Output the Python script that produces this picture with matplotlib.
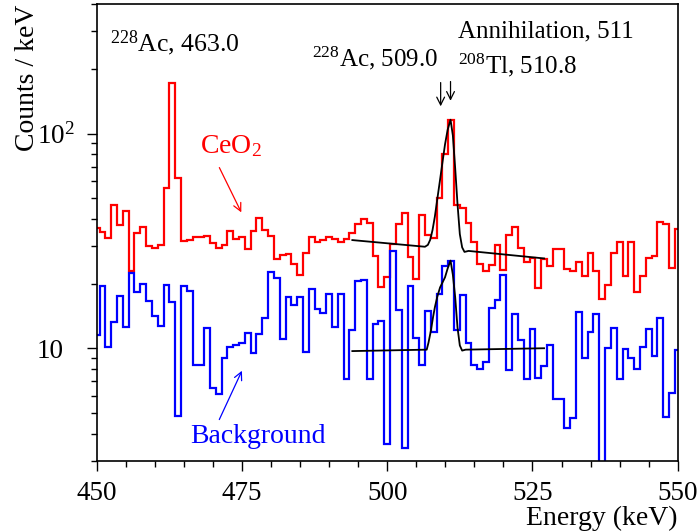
import matplotlib
matplotlib.use("Agg")
import matplotlib.pyplot as plt
import numpy as np
from matplotlib.ticker import LogLocator, FixedLocator, NullFormatter, MultipleLocator

plt.rcParams['font.family'] = ['Liberation Serif', 'DejaVu Serif']
plt.rcParams['mathtext.fontset'] = 'custom'
plt.rcParams['mathtext.rm'] = 'Liberation Serif'
plt.rcParams['mathtext.it'] = 'Liberation Serif:italic'

# 1 keV bins centred on 450 ... 550
bin_edges = np.arange(449.5, 551.0, 1.0)

ceo2 = [36.5, 34.8, 32.5, 46.7, 37.4, 43.5, 22.9, 34.4, 36.9, 29.8,
        29.3, 30.4, 55.7, 171.8, 61.8, 31.5, 31.8, 32.8, 33.1, 33.5,
        30.8, 29.4, 30.2, 35.3, 32.2, 32.8, 28.9, 35.2, 40.3, 35.6,
        33.4, 26.0, 27.1, 27.4, 24.8, 21.9, 27.9, 33.0, 31.2, 31.8,
        32.9, 32.2, 31.3, 32.2, 34.4, 37.8, 40.2, 38.4, 26.9, 19.3,
        21.4, 30.5, 37.8, 42.5, 26.6, 21.0, 41.6, 33.6, 32.5, 50.0,
        80.4, 116.0, 46.7, 45.2, 38.2, 31.4, 24.6, 22.8, 24.5, 30.2,
        23.1, 33.6, 36.7, 29.3, 25.1, 26.2, 19.1, 26.0, 24.2, 28.9,
        28.9, 23.5, 22.9, 25.1, 21.6, 27.7, 22.9, 17.0, 19.7, 27.9,
        31.4, 21.6, 31.4, 18.2, 21.7, 26.3, 26.9, 38.9, 37.8, 23.6,
        36.1]

background = [11.5, 19.4, 10.1, 13.2, 17.6, 12.5, 22.4, 18.2, 20.0, 16.6,
              14.2, 12.7, 19.6, 16.4, 4.83, 19.4, 18.5, 8.4, 8.4, 12.4,
              6.5, 6.14, 9.0, 10.1, 10.4, 10.6, 11.8, 9.5, 11.6, 13.8,
              22.7, 21.2, 11.1, 17.3, 15.9, 17.3, 9.6, 18.9, 15.2, 14.6,
              17.9, 12.5, 17.9, 7.2, 12.2, 20.5, 20.8, 7.2, 13.0, 13.4,
              3.57, 28.5, 15.0, 3.44, 19.5, 11.2, 8.4, 14.9, 11.9, 17.9,
              24.1, 25.5, 12.1, 17.7, 10.6, 8.4, 8.0, 8.6, 15.4, 16.8,
              22.0, 7.9, 14.5, 10.9, 7.2, 12.3, 7.3, 8.3, 10.3, 5.8,
              5.8, 4.26, 4.73, 14.7, 9.0, 11.9, 14.5, 2.0, 10.0, 12.4,
              7.2, 9.9, 9.0, 8.0, 10.1, 12.3, 9.2, 13.8, 4.8, 6.2,
              9.8]

# fitted curves, points
fit_ceo2_x = [494.0, 506.5, 507.0, 507.4, 507.8, 508.2, 508.6, 509.1, 509.5,
              509.95, 510.4, 510.9, 511.3, 511.7, 512.1, 512.5, 512.9, 513.3,
              514.0, 527.0]
fit_ceo2_y = [31.9, 29.7, 30.3, 32.0, 35.5, 41.0, 49.0, 61.0, 73.0,
              89.0, 104.0, 116.0, 98.0, 69.0, 47.0, 34.0, 29.5, 28.1,
              28.4, 26.2]
fit_bkg_x = [494.0, 506.8, 507.1, 507.5, 507.9, 508.2, 508.6, 509.1, 509.5,
             509.95, 510.4, 510.9, 511.3, 511.7, 512.1, 512.5, 512.9, 513.5,
             527.0]
fit_bkg_y = [9.7, 9.85, 10.6, 12.0, 14.0, 15.5, 17.3, 19.2, 20.2,
             21.4, 23.5, 25.6, 22.0, 17.3, 12.5, 10.3, 9.75, 9.85,
             10.0]

fig = plt.figure(figsize=(6.99, 5.31), dpi=100)
ax = fig.add_axes([96.7 / 699, 1 - 460.5 / 531, 581.0 / 699, 456.2 / 531])

ax.stairs(ceo2, bin_edges, color='#ff0000', lw=1.6)
ax.stairs(background, bin_edges, color='#0000ff', lw=1.6)
ax.plot(fit_ceo2_x, fit_ceo2_y, color='black', lw=1.3)
ax.plot(fit_bkg_x, fit_bkg_y, color='black', lw=1.3)

ax.set_yscale('log')
ax.set_xlim(450, 550)
ax.set_ylim(3.0, 400)

ax.xaxis.set_major_locator(MultipleLocator(25))
ax.xaxis.set_minor_locator(MultipleLocator(5))
ax.yaxis.set_major_locator(FixedLocator([10, 100]))
ax.yaxis.set_minor_locator(LogLocator(base=10, subs=np.arange(2, 10)))
ax.yaxis.set_minor_formatter(NullFormatter())
ax.set_yticklabels(['10', '$10^{2}$'])
ax.tick_params(axis='x', which='major', length=7, width=1, labelsize=19.5, pad=8)
ax.tick_params(axis='x', which='minor', length=4, width=1)
ax.tick_params(axis='y', which='major', length=7, width=1, labelsize=19.5, pad=36)
ax.tick_params(axis='y', which='minor', length=4, width=1)
for lab in ax.get_yticklabels():
    lab.set_horizontalalignment('left')
for sp in ax.spines.values():
    sp.set_linewidth(1.2)

ax.set_xlabel('Energy (keV)', fontsize=20, loc='right')
ax.xaxis.set_label_coords(1.0, -0.099)
ax.set_ylabel('Counts / keV', fontsize=20, loc='top')
ax.yaxis.set_label_coords(-0.098, 1.0)

ax.text(452.3, 241, r'$^{228}$Ac, 463.0', fontsize=18.5, va='baseline')
ax.text(487.1, 205, r'$^{228}$Ac, 509.0', fontsize=18, va='baseline')
ax.text(512.2, 280, 'Annihilation, 511', fontsize=18, va='baseline')
ax.text(512.2, 190, r'$^{208}$Tl, 510.8', fontsize=18, va='baseline')
ax.text(467.8, 81, r'CeO$_{2}$', fontsize=20, color='#ff0000', va='baseline')
ax.text(466.1, 3.61, 'Background', fontsize=20, color='#0000ff', va='baseline')

arrow = dict(arrowstyle='->', lw=0.9, mutation_scale=14)
ax.annotate('', xy=(509.2, 130), xytext=(509.2, 178), arrowprops=dict(arrow, color='black'))
ax.annotate('', xy=(510.9, 138), xytext=(510.9, 180), arrowprops=dict(arrow, color='black'))
ax.annotate('', xy=(475.1, 41.8), xytext=(470.9, 71.3), arrowprops=dict(arrow, color='#ff0000'))
ax.annotate('', xy=(475.2, 8.07), xytext=(470.9, 4.53), arrowprops=dict(arrow, color='#0000ff'))

fig.savefig('out.png', dpi=100)
